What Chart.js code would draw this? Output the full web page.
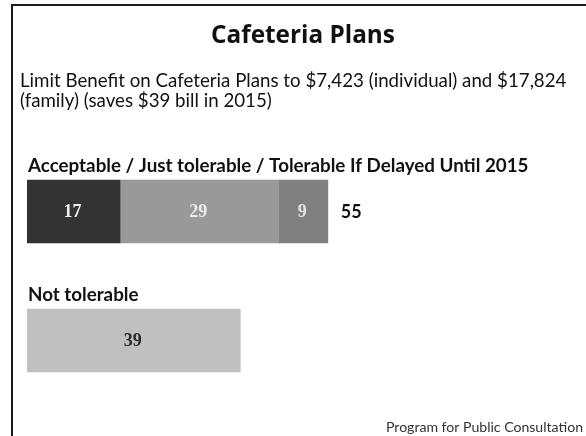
<!DOCTYPE html>
<html>
<head>
<meta charset="utf-8">
<script src="https://cdn.jsdelivr.net/npm/chart.js@4/dist/chart.umd.min.js"></script>
<style>
html,body{margin:0;padding:0;background:#fff;}
#wrap{width:586px;height:436px;position:relative;}
</style>
</head>
<body>
<div id="wrap"><canvas id="c" width="586" height="436"></canvas></div>
<script>
const chartTitle = "Cafeteria Plans";
const subtitleLines = ["Limit Benefit on Cafeteria Plans to $7,423 (individual) and $17,824", "(family) (saves $39 bill in 2015)"];
const sourceText = "Program for Public Consultation";
const categories = ["Acceptable / Just tolerable / Tolerable If Delayed Until 2015", "Not tolerable"];
const seriesNames = ["Acceptable", "Just tolerable", "Tolerable if delayed", "Not tolerable"];
const acceptable = [17, null];
const justTolerable = [29, null];
const tolerableIfDelayed = [9, null];
const notTolerable = [null, 39];
const totals = [55, null];

const colors = ["#333333", "#999999", "#808080", "#c0c0c0"];
const labelColors = ["#f2f2f2", "#ececec", "#e2e2e2", "#2a2a2a"];

const SANS = "'Open Sans', Lato, sans-serif";
const LATO = "Lato, 'Open Sans', sans-serif";
const SERIF = "'Liberation Serif', 'DejaVu Serif', serif";

function fitFont(ctx, text, weight, family, targetWidth) {
  ctx.font = weight + " 100px " + family;
  const w = ctx.measureText(text).width;
  const size = 100 * targetWidth / w;
  return weight + " " + size.toFixed(2) + "px " + family;
}

const decor = {
  id: 'decor',
  beforeDraw(chart) {
    const ctx = chart.ctx;
    ctx.save();
    ctx.fillStyle = '#fff';
    ctx.fillRect(0, 0, chart.width, chart.height);
    ctx.strokeStyle = '#1a1a1a';
    ctx.lineWidth = 2;
    ctx.beginPath();
    ctx.moveTo(12, 436);
    ctx.lineTo(12, 5);
    ctx.lineTo(586, 5);
    ctx.stroke();
    ctx.restore();
  },
  afterDatasetsDraw(chart) {
    const ctx = chart.ctx;
    ctx.save();
    // title
    ctx.fillStyle = '#111';
    ctx.font = fitFont(ctx, chartTitle, "bold", SANS, 184);
    ctx.textAlign = 'center';
    ctx.textBaseline = 'alphabetic';
    ctx.fillText(chartTitle, 303, 43);
    // subtitle
    ctx.font = fitFont(ctx, subtitleLines[0], "normal", LATO, 547);
    ctx.textAlign = 'left';
    ctx.fillStyle = '#111';
    subtitleLines.forEach((l, i) => ctx.fillText(l, 20, 87 + i * 20));
    // category labels above bars
    const catWidths = [501, 111];
    categories.forEach((c, i) => {
      const meta = chart.getDatasetMeta(i === 0 ? 0 : 3);
      const el = meta.data[i];
      const top = el.y - el.height / 2;
      ctx.font = fitFont(ctx, categories[0], "bold", LATO, catWidths[0]);
      ctx.fillStyle = '#111';
      ctx.textAlign = 'left';
      ctx.textBaseline = 'alphabetic';
      ctx.fillText(c, chart.chartArea.left + 1, top - 8);
    });
    // values in bars
    chart.data.datasets.forEach((ds, di) => {
      const meta = chart.getDatasetMeta(di);
      meta.data.forEach((el, i) => {
        const v = ds.data[i];
        if (v == null) return;
        const cx = (el.x + el.base) / 2;
        ctx.font = "bold 18px " + SERIF;
        ctx.fillStyle = labelColors[di];
        ctx.textAlign = 'center';
        ctx.textBaseline = 'middle';
        ctx.fillText(String(v), cx - 1, el.y + 1);
      });
    });
    // totals
    const lastMeta = chart.getDatasetMeta(2);
    totals.forEach((t, i) => {
      if (t == null) return;
      const el = lastMeta.data[i];
      ctx.font = "bold 18px " + LATO;
      ctx.fillStyle = '#111';
      ctx.textAlign = 'left';
      ctx.textBaseline = 'middle';
      ctx.fillText(String(t), el.x + 13, el.y + 1);
    });
    // source
    ctx.font = fitFont(ctx, sourceText, "normal", LATO, 197);
    ctx.fillStyle = '#333';
    ctx.textAlign = 'right';
    ctx.textBaseline = 'alphabetic';
    ctx.fillText(sourceText, 583, 432);
    ctx.restore();
  }
};

const datasets = [acceptable, justTolerable, tolerableIfDelayed, notTolerable].map((d, i) => ({
  label: seriesNames[i],
  data: d,
  backgroundColor: colors[i],
  borderWidth: 0,
  barThickness: 63,
  grouped: false
}));

new Chart(document.getElementById('c'), {
  type: 'bar',
  data: { labels: categories, datasets },
  options: {
    indexAxis: 'y',
    responsive: false,
    animation: false,
    layout: { padding: { left: 27, right: 12, top: 147, bottom: 31 } },
    plugins: { legend: { display: false }, tooltip: { enabled: false }, title: { display: false } },
    scales: {
      x: { stacked: true, min: 0, max: 100, display: false },
      y: { stacked: true, display: false }
    }
  },
  plugins: [decor]
});
</script>
</body>
</html>
